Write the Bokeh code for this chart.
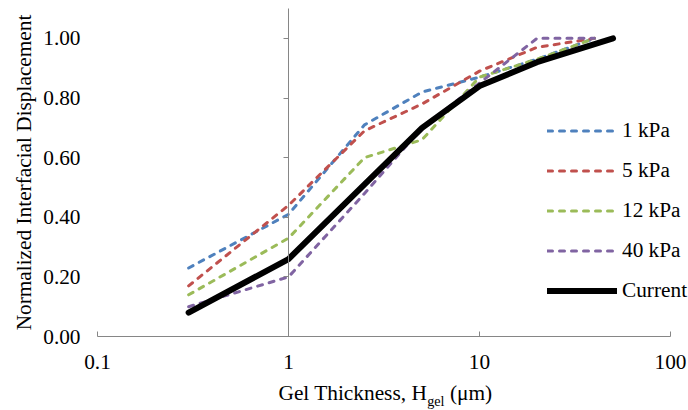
from bokeh.plotting import figure
from bokeh.models import (FixedTicker, NumeralTickFormatter, CustomJSTickFormatter,
                          Label, Legend, LegendItem, LinearAxis)
from bokeh.embed import file_html
from bokeh.resources import INLINE

# ---------------- data ----------------
x_kpa = [0.3, 1, 2.5, 5, 10, 20, 40]
x_current = [0.3, 1, 2.5, 5, 10, 20, 50]
kpa1 = [0.23, 0.41, 0.71, 0.82, 0.87, 0.93, 1.00]
kpa5 = [0.17, 0.44, 0.69, 0.78, 0.89, 0.97, 1.00]
kpa12 = [0.14, 0.33, 0.60, 0.66, 0.87, 0.93, 1.00]
kpa40 = [0.10, 0.20, 0.48, 0.70, 0.85, 1.00, 1.00]
current = [0.08, 0.26, 0.51, 0.70, 0.84, 0.92, 1.00]

series_names = ["1 kPa", "5 kPa", "12 kPa", "40 kPa", "Current"]
x_ticks = [0.1, 1, 10, 100]
y_ticks = [0.0, 0.2, 0.4, 0.6, 0.8, 1.0]
x_axis_bounds = (0.1, 100)
y_axis_bounds = (0.0, 1.1)

FONT = "Liberation Serif"
FS = "21.3px"
AXIS_GRAY = "#868686"
colors = ["#4F81BD", "#C0504D", "#9BBB59", "#8064A2", "#000000"]

p = figure(width=688, height=410, x_axis_type="log",
           x_range=(0.03105, 124.2), y_range=(-0.248, 1.127),
           output_backend="svg", toolbar_location=None,
           min_border_left=0, min_border_right=0,
           min_border_top=0, min_border_bottom=0)
p.outline_line_color = None
p.xgrid.visible = False
p.ygrid.visible = False
p.background_fill_color = "white"
p.border_fill_color = "white"

# x axis, drawn at y = 0
xa = p.xaxis[0]
xa.fixed_location = 0
xa.bounds = x_axis_bounds
xa.ticker = FixedTicker(ticks=x_ticks)
xa.formatter = CustomJSTickFormatter(code="return tick.toString();")
xa.axis_line_color = AXIS_GRAY
xa.major_tick_line_color = AXIS_GRAY
xa.major_tick_in = 5
xa.major_tick_out = 0
xa.minor_tick_line_color = None
xa.major_label_standoff = 18
xa.major_label_text_font = FONT
xa.major_label_text_font_size = FS
xa.major_label_text_color = "#000000"

# y axis labels at the left end of the x axis
ya = p.yaxis[0]
ya.fixed_location = 0.1
ya.bounds = y_axis_bounds
ya.ticker = FixedTicker(ticks=y_ticks)
ya.formatter = NumeralTickFormatter(format="0.00")
ya.axis_line_color = None
ya.major_tick_line_color = None
ya.minor_tick_line_color = None
ya.major_tick_in = 0
ya.major_tick_out = 0
ya.major_label_standoff = 17
ya.major_label_text_font = FONT
ya.major_label_text_font_size = FS
ya.major_label_text_color = "#000000"
ya.axis_label = "Normalized Interfacial Displacement"
ya.axis_label_text_font = FONT
ya.axis_label_text_font_size = FS
ya.axis_label_text_font_style = "normal"
ya.axis_label_text_color = "#000000"
ya.axis_label_standoff = 4

# vertical axis line crossing at x = 1
ya2 = LinearAxis(fixed_location=1, bounds=y_axis_bounds,
                 ticker=FixedTicker(ticks=y_ticks),
                 formatter=CustomJSTickFormatter(code="return '';"),
                 axis_line_color=AXIS_GRAY, major_tick_line_color=AXIS_GRAY,
                 minor_tick_line_color=None, major_tick_in=0, major_tick_out=5)
p.add_layout(ya2, "left")

# series
renderers = []
for name, ys, col in zip(series_names[:4], [kpa1, kpa5, kpa12, kpa40], colors[:4]):
    r = p.line(x_kpa, ys, line_color=col, line_width=3, line_dash="5 7",
               line_cap="round", line_join="round")
    renderers.append(r)
r = p.line(x_current, current, line_color=colors[4], line_width=6,
           line_cap="round", line_join="round")
renderers.append(r)

legend = Legend(items=[LegendItem(label=n, renderers=[rr]) for n, rr in zip(series_names, renderers)],
                location=(547, 107.5), orientation="vertical",
                glyph_width=70, glyph_height=25, label_height=25, spacing=15,
                label_standoff=5, padding=0, margin=0,
                border_line_color=None, background_fill_alpha=0,
                label_text_font=FONT, label_text_font_size=FS,
                label_text_color="#000000")
p.add_layout(legend)

# x axis title with subscript
fs_main, fs_sub = 21.33, 14.2
tnr = {"G": 722, "e": 444, "l": 278, " ": 250, "T": 611, "h": 500, "i": 278, "c": 444,
       "k": 500, "n": 500, "s": 389, ",": 250, "H": 722, "g": 500}
t1, t2, t3 = "Gel Thickness, H", "gel", "(μm)"
w1 = sum(tnr[c] for c in t1) / 1000 * fs_main
w2 = sum(tnr[c] for c in t2) / 1000 * fs_sub
w_space = tnr[" "] / 1000 * fs_main
x0 = 278
common = dict(x_units="screen", y_units="screen", text_font=FONT,
              text_color="#000000", text_baseline="middle", text_align="left")
p.add_layout(Label(x=x0, y=18, text=t1, text_font_size=f"{fs_main}px", **common))
p.add_layout(Label(x=x0 + w1, y=10, text=t2, text_font_size=f"{fs_sub}px", **common))
p.add_layout(Label(x=x0 + w1 + w2 + w_space, y=18, text=t3, text_font_size=f"{fs_main}px", **common))

open("out.html", "w").write(file_html(p, INLINE))
